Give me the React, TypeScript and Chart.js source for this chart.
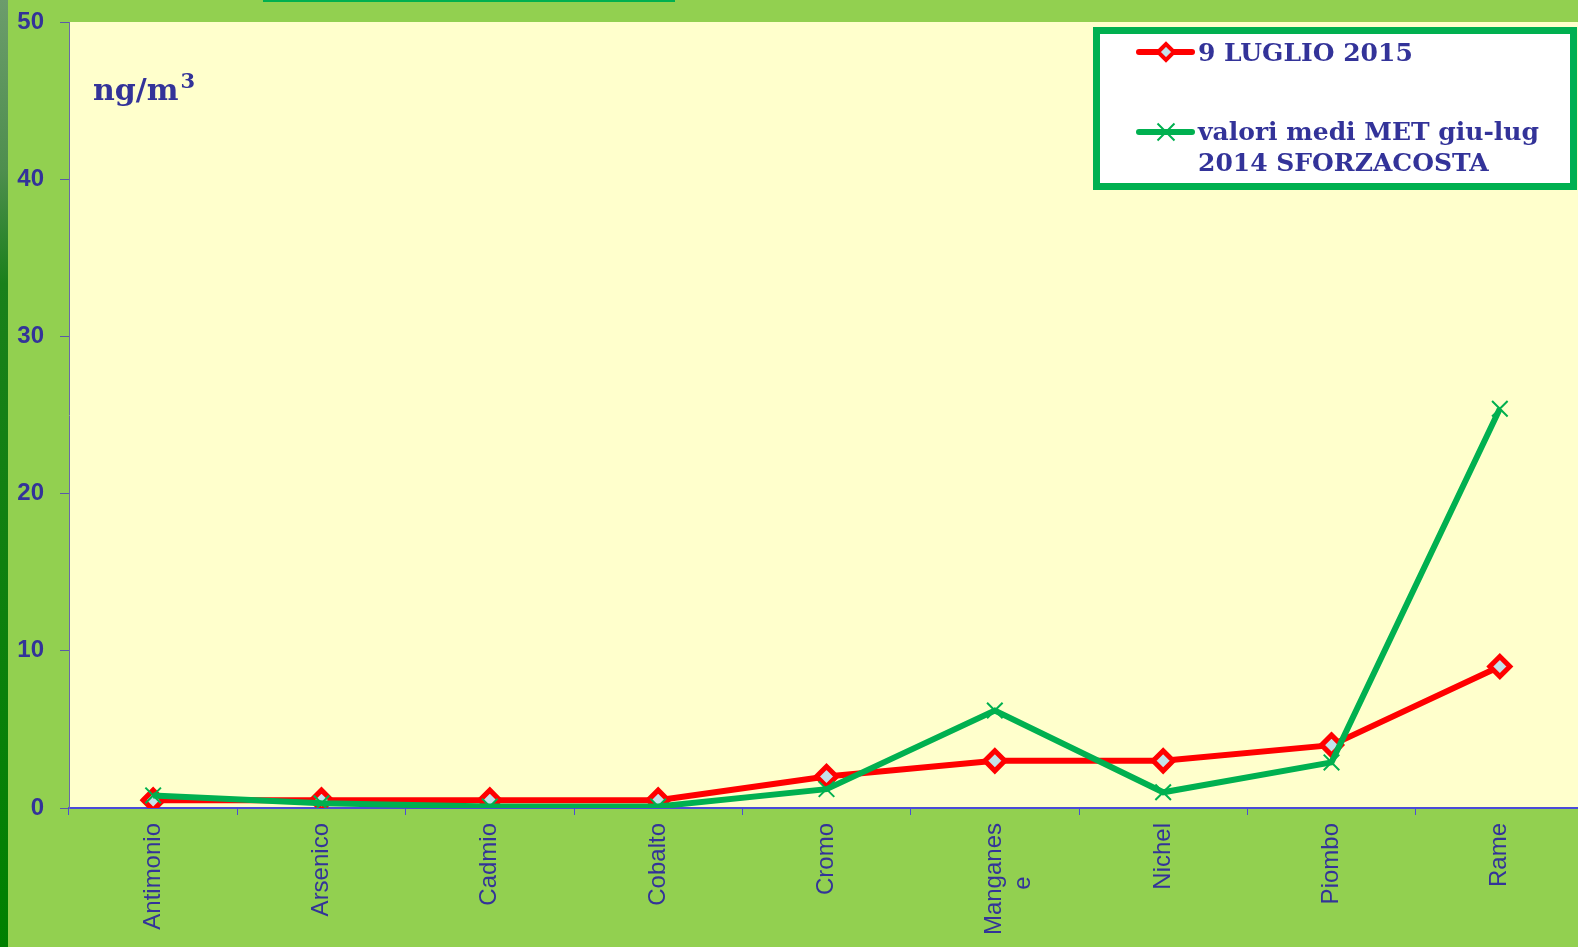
import React, { useEffect, useRef } from 'react';
import { Chart, registerables } from 'chart.js';

Chart.register(...registerables);

// ---- data ----
const categories: (string | string[])[] = [
  'Antimonio', 'Arsenico', 'Cadmio', 'Cobalto', 'Cromo',
  ['Manganes', 'e        '], 'Nichel', 'Piombo', 'Rame',
];
const luglio2015 = [0.5, 0.5, 0.5, 0.5, 2.0, 3.0, 3.0, 4.0, 9.0];
const mediMet2014 = [0.8, 0.3, 0.1, 0.1, 1.2, 6.2, 1.0, 2.9, 25.4];
const yTickValues = [0, 10, 20, 30, 40, 50];
const seriesRedName = ['9 LUGLIO 2015'];
const seriesGreenName = ['valori medi MET giu-lug', '2014 SFORZACOSTA'];
const unitBase = 'ng/m';
const unitExp = '3';

// ---- styles ----
const OUTER_GREEN = '#92D050';
const PLOT_BG = '#FFFFCC';
const RED = '#FF0000';
const GREEN = '#00B050';
const TEXT_BLUE = '#333399';
const MARKER_FILL = '#C4E2EA';
const SERIF_BOLD = 'bold 25px "DejaVu Serif", serif';

const backgroundPlugin = {
  id: 'bgPlugin',
  beforeDraw(chart: any) {
    const { ctx, width, height, chartArea } = chart;
    ctx.save();
    ctx.fillStyle = OUTER_GREEN;
    ctx.fillRect(0, 0, width, height);
    const g = ctx.createLinearGradient(0, 0, 0, height);
    g.addColorStop(0, '#6C9C6C');
    g.addColorStop(0.18, '#4E8E4E');
    g.addColorStop(0.3, '#1A801A');
    g.addColorStop(1, '#008000');
    ctx.fillStyle = g;
    ctx.fillRect(0, 0, 8, height);
    ctx.fillStyle = GREEN;
    ctx.fillRect(263, 0, 412, 2);
    ctx.fillStyle = PLOT_BG;
    ctx.fillRect(chartArea.left, chartArea.top, chartArea.right - chartArea.left, chartArea.bottom - chartArea.top);
    ctx.restore();
  },
};

function drawDiamond(ctx: CanvasRenderingContext2D, x: number, y: number, r: number) {
  ctx.beginPath();
  ctx.moveTo(x - r, y);
  ctx.lineTo(x, y - r);
  ctx.lineTo(x + r, y);
  ctx.lineTo(x, y + r);
  ctx.closePath();
  ctx.fillStyle = MARKER_FILL;
  ctx.fill();
  ctx.lineWidth = 4;
  ctx.strokeStyle = RED;
  ctx.stroke();
}

function drawCross(ctx: CanvasRenderingContext2D, x: number, y: number, r: number) {
  const d = r * Math.SQRT1_2;
  ctx.beginPath();
  ctx.moveTo(x - d, y - d);
  ctx.lineTo(x + d, y + d);
  ctx.moveTo(x + d, y - d);
  ctx.lineTo(x - d, y + d);
  ctx.lineWidth = 2;
  ctx.strokeStyle = GREEN;
  ctx.stroke();
}

const overlayPlugin = {
  id: 'overlayPlugin',
  afterDraw(chart: any) {
    const { ctx } = chart;
    ctx.save();
    ctx.fillStyle = TEXT_BLUE;
    ctx.font = 'bold 30px "DejaVu Serif", serif';
    ctx.textBaseline = 'alphabetic';
    ctx.textAlign = 'left';
    ctx.fillText(unitBase, 93, 100);
    const w = ctx.measureText(unitBase).width;
    ctx.font = 'bold 21px "DejaVu Serif", serif';
    ctx.fillText(unitExp, 93 + w + 2, 88);

    ctx.fillStyle = '#FFFFFF';
    ctx.fillRect(1096, 30, 478, 157);
    ctx.lineWidth = 7;
    ctx.strokeStyle = GREEN;
    ctx.strokeRect(1096.5, 30.5, 477, 156);

    ctx.lineCap = 'round';
    ctx.lineWidth = 6;
    ctx.strokeStyle = RED;
    ctx.beginPath();
    ctx.moveTo(1139, 52);
    ctx.lineTo(1192, 52);
    ctx.stroke();
    ctx.lineCap = 'butt';
    drawDiamond(ctx, 1166, 52, 8);

    ctx.lineCap = 'round';
    ctx.lineWidth = 6;
    ctx.strokeStyle = GREEN;
    ctx.beginPath();
    ctx.moveTo(1139, 132);
    ctx.lineTo(1192, 132);
    ctx.stroke();
    ctx.lineCap = 'butt';
    drawCross(ctx, 1166, 132, 12);

    ctx.fillStyle = TEXT_BLUE;
    ctx.font = SERIF_BOLD;
    seriesRedName.forEach((t, i) => ctx.fillText(t, 1198, 61 + i * 31));
    seriesGreenName.forEach((t, i) => ctx.fillText(t, 1198, 140 + i * 31));
    ctx.restore();
  },
};

export default function App() {
  const canvasRef = useRef<HTMLCanvasElement | null>(null);

  useEffect(() => {
    const canvas = canvasRef.current;
    if (!canvas) return;
    const chart = new Chart(canvas, {
      type: 'line',
      data: {
        labels: categories as any,
        datasets: [
          {
            label: seriesRedName.join(' '),
            data: luglio2015,
            borderColor: RED,
            backgroundColor: RED,
            borderWidth: 6,
            pointStyle: 'rectRot',
            pointRadius: 10,
            pointBorderWidth: 5,
            pointBackgroundColor: MARKER_FILL,
            pointBorderColor: RED,
            tension: 0,
            order: 1,
          },
          {
            label: seriesGreenName.join(' '),
            data: mediMet2014,
            borderColor: GREEN,
            backgroundColor: GREEN,
            borderWidth: 6,
            pointStyle: 'crossRot',
            pointRadius: 11,
            pointBorderWidth: 2,
            pointBorderColor: GREEN,
            tension: 0,
            order: 0,
          },
        ],
      },
      options: {
        responsive: false,
        animation: false,
        layout: { autoPadding: false, padding: { top: 22, right: 0, left: 0, bottom: 0 } },
        plugins: {
          legend: { display: false },
          tooltip: { enabled: false },
        },
        scales: {
          x: {
            type: 'category',
            offset: true,
            grid: {
              offset: true,
              drawOnChartArea: false,
              drawTicks: true,
              tickLength: 7,
              color: '#4B4BD8',
            },
            border: { display: true, color: '#4B4BD8', width: 2 },
            ticks: {
              minRotation: 90,
              maxRotation: 90,
              autoSkip: false,
              padding: 8,
              color: TEXT_BLUE,
              font: { family: '"Liberation Sans", Arial, sans-serif', size: 24, weight: 'normal' },
            },
            afterFit(scale: any) {
              scale.height = 139;
              scale.paddingLeft = 0;
              scale.paddingRight = 0;
            },
          },
          y: {
            min: 0,
            max: 50,
            afterBuildTicks(scale: any) {
              scale.ticks = yTickValues.map((v) => ({ value: v }));
            },
            grid: {
              drawOnChartArea: false,
              drawTicks: true,
              tickLength: 9,
              color: '#5A5AA8',
            },
            border: { display: true, color: '#6A6AA8', width: 1 },
            ticks: {
              padding: 16,
              color: TEXT_BLUE,
              font: { family: '"Liberation Sans", Arial, sans-serif', size: 24, weight: 'bold' },
            },
            afterFit(scale: any) {
              scale.width = 69;
              scale.paddingTop = 0;
              scale.paddingBottom = 0;
            },
          },
        },
      },
      plugins: [backgroundPlugin, overlayPlugin],
    });
    return () => chart.destroy();
  }, []);

  return (
    <div style={{ position: 'fixed', left: 0, top: 0, width: 1578, height: 947, overflow: 'hidden' }}>
      <canvas ref={canvasRef} width={1584} height={947} style={{ display: 'block' }} />
    </div>
  );
}
